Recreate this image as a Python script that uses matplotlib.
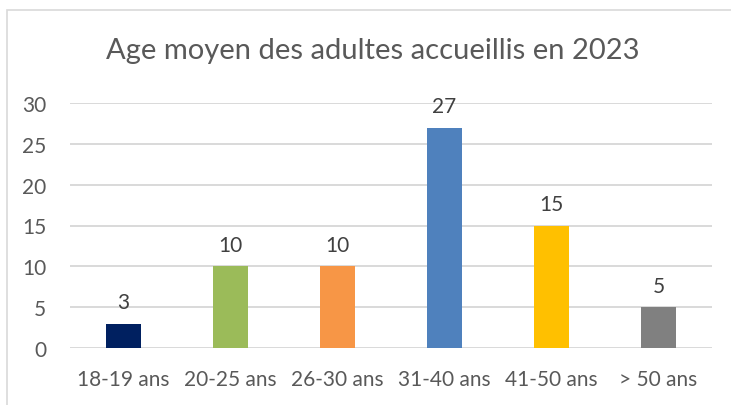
import matplotlib
matplotlib.use("Agg")
import matplotlib.pyplot as plt
from matplotlib.patches import Rectangle

categories = ["18-19 ans", "20-25 ans", "26-30 ans", "31-40 ans", "41-50 ans", "> 50 ans"]
values = [3, 10, 10, 27, 15, 5]
colors = ["#002060", "#9BBB59", "#F79646", "#4F81BD", "#FFC000", "#808080"]
yticks = [0, 5, 10, 15, 20, 25, 30]
title = "Age moyen des adultes accueillis en 2023"

plt.rcParams['font.family'] = ['Lato', 'DejaVu Sans']
W, H = 731, 406
fig = plt.figure(figsize=(W / 100, H / 100), dpi=100)
fig.patch.set_facecolor("white")

# outer chart border (cropped at right/bottom)
fig.add_artist(Rectangle((7 / W, -0.05), 1.1, 1 - 11 / H + 0.05, transform=fig.transFigure,
                         fill=False, edgecolor="#D9D9D9", linewidth=1.2))

ax = fig.add_axes([70 / W, 1 - 349 / H, (712 - 70) / W, (349 - 104) / H])
x = list(range(len(categories)))
ax.bar(x, values, width=0.32, color=colors, zorder=3)
ax.set_xlim(-0.5, len(categories) - 0.5)
ax.set_ylim(0, 30)
ax.set_yticks(yticks)
ax.set_xticks(x)
ax.set_xticklabels(categories)
ax.tick_params(axis="both", length=0, labelsize=15, labelcolor="#595959")
ax.tick_params(axis="y", pad=17)
ax.tick_params(axis="x", pad=15)
ax.grid(axis="y", color="#D9D9D9", linewidth=1.4, zorder=0)
for s in ax.spines.values():
    s.set_visible(False)
for xi, v in zip(x, values):
    ax.annotate(str(v), (xi, v), xytext=(0, 8), textcoords="offset points",
                ha="center", va="bottom", fontsize=15, color="#404040", zorder=4)

fig.text(373 / W, 1 - 51 / H, title, ha="center", va="center", fontsize=21, color="#595959")

fig.savefig("out.png", dpi=100, facecolor="white")
